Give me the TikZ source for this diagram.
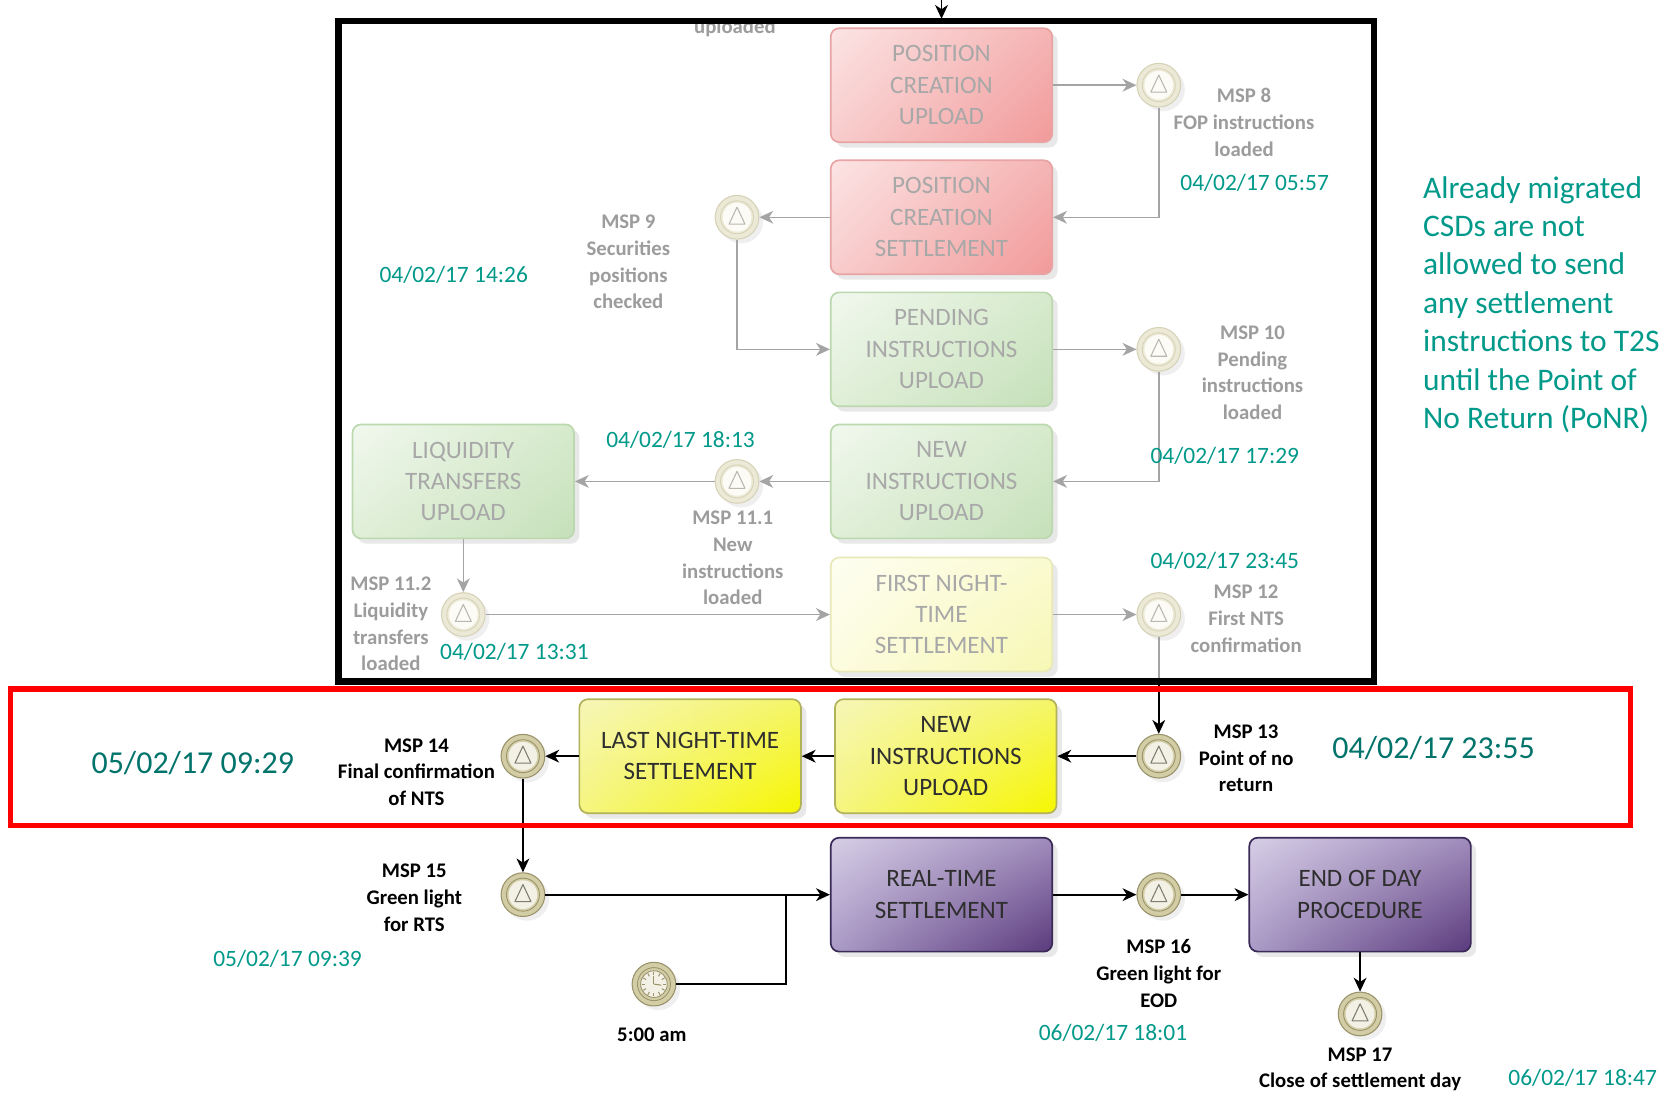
\documentclass[tikz,border=0pt]{standalone}
\usepackage{fontspec}
\setmainfont{Carlito}
\usetikzlibrary{arrows.meta,shadows,calc,shadings}

\definecolor{tealA}{HTML}{00998A}
\definecolor{tealB}{HTML}{00736B}
\definecolor{lblgray}{HTML}{9C9C9C}
\definecolor{boxgray}{HTML}{A8A8A8}
\definecolor{arrgray}{HTML}{A4A4A4}
\definecolor{darktxt}{HTML}{2E2E2E}
% box colours
\definecolor{rD}{HTML}{E8A4A4}\definecolor{rUL}{HTML}{FCE4E4}\definecolor{rUR}{HTML}{F5B4B4}\definecolor{rLL}{HTML}{F8CCCC}\definecolor{rLR}{HTML}{F29A9A}
\definecolor{gD}{HTML}{BCD8AE}\definecolor{gUL}{HTML}{F1F8EE}\definecolor{gUR}{HTML}{D6EACC}\definecolor{gLL}{HTML}{E0EFD8}\definecolor{gLR}{HTML}{C6E0BA}
\definecolor{pD}{HTML}{E8E8B8}\definecolor{pUL}{HTML}{FEFEF2}\definecolor{pUR}{HTML}{FAFAD0}\definecolor{pLL}{HTML}{FCFCE0}\definecolor{pLR}{HTML}{F7F7B4}
\definecolor{yD}{HTML}{B2B25A}\definecolor{yUL}{HTML}{F6F6B8}\definecolor{yUR}{HTML}{F5F56A}\definecolor{yLL}{HTML}{F5F580}\definecolor{yLR}{HTML}{F6F600}
\definecolor{vD}{HTML}{3A2A58}\definecolor{vUL}{HTML}{D6CEE6}\definecolor{vUR}{HTML}{A08CBC}\definecolor{vLL}{HTML}{AA9AC6}\definecolor{vLR}{HTML}{5A3A7C}
% event colours: faded (f) and dark (d)
\definecolor{fring}{HTML}{ECE9D6}
\definecolor{fedge}{HTML}{D6D2B8}
\definecolor{fin}{HTML}{FCFBF6}
\definecolor{ftri}{HTML}{B8B8B0}
\definecolor{dring}{HTML}{D3CDA6}
\definecolor{dedge}{HTML}{9A926A}
\definecolor{din}{HTML}{F3F1E6}
\definecolor{dtri}{HTML}{7C7C70}

\tikzset{
  box/.style={rounded corners=8pt, minimum width=208pt, minimum height=107pt,
    align=center, inner sep=2pt, font=\fontsize{23.5}{29.5}\selectfont, line width=1.6pt,
    drop shadow={opacity=0.18, shadow xshift=5pt, shadow yshift=-5pt}},
  cbox/.style={box, draw=#1D, upper left=#1UL, upper right=#1UR, lower left=#1LL, lower right=#1LR},
  redbox/.style={cbox=r, text=boxgray},
  greenbox/.style={cbox=g, text=boxgray},
  paleybox/.style={cbox=p, text=boxgray},
  yelbox/.style={cbox=y, text=darktxt},
  purbox/.style={cbox=v, text=darktxt},
  evt/.style={circle, minimum size=41pt, inner sep=0pt, line width=1pt, fill=#1ring, draw=#1edge,
    drop shadow={opacity=0.12, shadow xshift=4pt, shadow yshift=-4pt},
    path picture={
      \coordinate (pc) at (path picture bounding box.center);
      \draw[#1edge, line width=0.8pt] (pc) circle (15.5pt);
      \fill[#1in] (pc) circle (13.5pt);
      \draw[#1tri, line width=1pt, line join=round]
        ([shift={(0,-9.5)}]pc) -- ([shift={(-7.5,6.5)}]pc) -- ([shift={(7.5,6.5)}]pc) -- cycle;
    }},
  clockevt/.style={circle, minimum size=41pt, inner sep=0pt, line width=1pt, fill=dring, draw=dedge,
    drop shadow={opacity=0.12, shadow xshift=4pt, shadow yshift=-4pt},
    path picture={
      \coordinate (pc) at (path picture bounding box.center);
      \draw[dedge, line width=0.8pt] (pc) circle (15.5pt);
      \filldraw[fill=din, draw=dedge, line width=0.8pt] (pc) circle (12.5pt);
      \foreach \a in {0,30,...,330}{
        \draw[dedge, line width=0.9pt] ([shift={(\a:8.5)}]pc) -- ([shift={(\a:11.5)}]pc);}
      \draw[dedge, line width=1pt] (pc) -- ([shift={(0,-8)}]pc);
      \draw[dedge, line width=1pt] (pc) -- ([shift={(7,1)}]pc);
    }},
  garr/.style={draw=arrgray, line width=1.4pt, -{Stealth[length=13pt,width=12pt,inset=4pt]}},
  gline/.style={draw=arrgray, line width=1.4pt},
  barr/.style={draw=black, line width=1.6pt, -{Stealth[length=13pt,width=12pt,inset=4pt]}},
  bline/.style={draw=black, line width=1.6pt},
  lbl/.style={align=center, inner sep=0pt, text=lblgray, font=\bfseries\fontsize{19.5}{25}\selectfont},
  blbl/.style={align=center, inner sep=0pt, text=black, font=\bfseries\fontsize{19.5}{25}\selectfont},
  datetxt/.style={inner sep=0pt, text=tealA, font=\fontsize{22}{26}\selectfont},
  bigdate/.style={inner sep=0pt, text=tealB, font=\fontsize{30}{34}\selectfont},
  notetxt/.style={inner sep=0pt, align=left, text=tealA, font=\fontsize{29.5}{36}\selectfont},
}

\begin{document}
\begin{tikzpicture}[x=1pt,y=-1pt]
\useasboundingbox (0,0) rectangle (1568,1028);
\fill[white] (0,0) rectangle (1568,1028);

% ---------- boxes ----------
\node[redbox]   (b1)  at (884,80)  {POSITION\\CREATION\\UPLOAD};
\node[redbox]   (b2)  at (884,204) {POSITION\\CREATION\\SETTLEMENT};
\node[greenbox] (b3)  at (884,328) {PENDING\\INSTRUCTIONS\\UPLOAD};
\node[greenbox] (b4)  at (884,452) {NEW\\INSTRUCTIONS\\UPLOAD};
\node[paleybox] (b5)  at (884,577) {FIRST NIGHT-\\TIME\\SETTLEMENT};
\node[greenbox] (b6)  at (435,452) {LIQUIDITY\\TRANSFERS\\UPLOAD};
\node[yelbox]   (b7)  at (648,710) {LAST NIGHT-TIME\\SETTLEMENT};
\node[yelbox]   (b8)  at (888,710) {NEW\\INSTRUCTIONS\\UPLOAD};
\node[purbox]   (b9)  at (884,840) {REAL-TIME\\SETTLEMENT};
\node[purbox]   (b10) at (1277,840) {END OF DAY\\PROCEDURE};

% ---------- events ----------
\node[evt=f] (e8)   at (1088,80)  {};
\node[evt=f] (e9)   at (692,204)  {};
\node[evt=f] (e10)  at (1088,328) {};
\node[evt=f] (e111) at (692,452)  {};
\node[evt=f] (e112) at (435,577)  {};
\node[evt=f] (e12)  at (1088,577) {};
\node[evt=d] (e13)  at (1088,710) {};
\node[evt=d] (e14)  at (491,710)  {};
\node[evt=d] (e15)  at (491,840)  {};
\node[clockevt] (clk) at (614,924) {};
\node[evt=d] (e16)  at (1088,840) {};
\node[evt=d] (e17)  at (1277,952) {};

% ---------- connectors ----------
\coordinate (topin) at (884,0);
\coordinate (c12) at (1088,640);
\coordinate (join) at (738,840);
\draw[barr, shorten >=8pt] (topin) -- (b1.north);
\draw[garr] (b1.east) -- (e8.west);
\draw[garr] (e8.south) |- (b2.east);
\draw[garr] (b2.west) -- (e9.east);
\draw[garr] (e9.south) |- (b3.west);
\draw[garr] (b3.east) -- (e10.west);
\draw[garr] (e10.south) |- (b4.east);
\draw[garr] (b4.west) -- (e111.east);
\draw[garr] (e111.west) -- (b6.east);
\draw[garr] (b6.south) -- (e112.north);
\draw[garr] (e112.east) -- (b5.west);
\draw[garr] (b5.east) -- (e12.west);
\draw[gline] (e12.south) -- (c12);
\draw[barr] (c12) -- (e13.north);
\draw[barr] (e13.west) -- (b8.east);
\draw[barr] (b8.west) -- (b7.east);
\draw[barr] (b7.west) -- (e14.east);
\draw[barr] (e14.south) -- (e15.north);
\draw[barr] (e15.east) -- (b9.west);
\draw[bline] (clk.east) -| (join);
\draw[barr] (b9.east) -- (e16.west);
\draw[barr] (e16.east) -- (b10.west);
\draw[barr] (b10.south) -- (e17.north);

% ---------- labels ----------
\node[lbl, anchor=base] (up) at (690,31) {uploaded};
\node[lbl] (l8)   at (1168,115) {MSP 8\\FOP instructions\\loaded};
\node[lbl] (l9)   at (590,246)  {MSP 9\\Securities\\positions\\checked};
\node[lbl] (l10)  at (1176,350) {MSP 10\\Pending\\instructions\\loaded};
\node[lbl] (l111) at (688,524)  {MSP 11.1\\New\\instructions\\loaded};
\node[lbl] (l112) at (367,586)  {MSP 11.2\\Liquidity\\transfers\\loaded};
\node[lbl] (l12)  at (1170,581) {MSP 12\\First NTS\\confirmation};
\node[blbl] (l13) at (1170,712) {MSP 13\\Point of no\\return};
\node[blbl] (l14) at (391,725)  {MSP 14\\Final confirmation\\of NTS};
\node[blbl] (l15) at (389,843)  {MSP 15\\Green light\\for RTS};
\node[blbl] (lclk) at (612,972) {5:00 am};
\node[blbl] (l16) at (1088,914) {MSP 16\\Green light for\\EOD};
\node[blbl] (l17) at (1277,1004) {MSP 17\\Close of settlement day};

% ---------- dates ----------
\node[datetxt] (d8)   at (1178,172) {04/02/17 05:57};
\node[datetxt] (d9)   at (426,258)  {04/02/17 14:26};
\node[datetxt] (d10)  at (1150,428) {04/02/17 17:29};
\node[datetxt] (d111) at (639,413)  {04/02/17 18:13};
\node[datetxt] (d112) at (483,612)  {04/02/17 13:31};
\node[datetxt] (d12)  at (1150,527) {04/02/17 23:45};
\node[bigdate] (d13)  at (1346,702) {04/02/17 23:55};
\node[bigdate] (d14)  at (181,716)  {05/02/17 09:29};
\node[datetxt] (d15)  at (270,900)  {05/02/17 09:39};
\node[datetxt] (d16)  at (1045,970) {06/02/17 18:01};
\node[datetxt] (d17)  at (1486,1012) {06/02/17 18:47};

% ---------- note ----------
\node[notetxt, anchor=west] (note) at (1336,286) {Already migrated\\CSDs are not\\allowed to send\\any settlement\\instructions to T2S\\until the Point of\\No Return (PoNR)};

% ---------- frames ----------
\draw[black, line width=6pt] (318,20) rectangle (1290,640);
\draw[red, line width=5pt] (10,647) rectangle (1531,775);
\end{tikzpicture}
\end{document}
